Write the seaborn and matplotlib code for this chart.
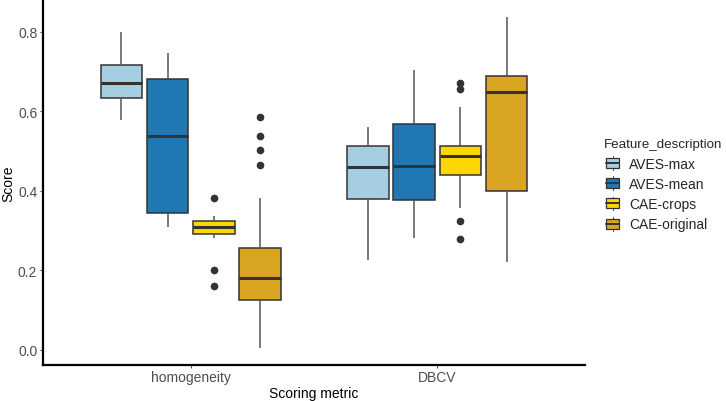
import numpy as np
import pandas as pd
import seaborn as sns
import matplotlib.pyplot as plt
from matplotlib.lines import Line2D
from matplotlib.patches import Rectangle
from matplotlib.legend_handler import HandlerBase

# === Data ===
metrics = ["homogeneity", "DBCV"]
features = ["AVES-max", "AVES-mean", "CAE-crops", "CAE-original"]
colors = ["#A6CEE3", "#1F78B4", "#FFD700", "#DAA520"]

homog_aves_max = [0.579, 0.598, 0.621, 0.634, 0.645, 0.660, 0.672, 0.684, 0.701, 0.717, 0.735, 0.762, 0.800]
homog_aves_mean = [0.310, 0.322, 0.338, 0.345, 0.402, 0.471, 0.538, 0.590, 0.641, 0.682, 0.703, 0.725, 0.747]
homog_cae_crops = [0.160, 0.200, 0.281, 0.292, 0.298, 0.305, 0.310, 0.314, 0.319, 0.325, 0.330, 0.337, 0.382]
homog_cae_original = [0.004, 0.045, 0.080, 0.101, 0.115, 0.124, 0.138, 0.150, 0.162, 0.172, 0.180,
                      0.192, 0.205, 0.221, 0.238, 0.255, 0.382, 0.465, 0.503, 0.539, 0.586]

dbcv_aves_max = [0.226, 0.290, 0.345, 0.380, 0.410, 0.438, 0.460, 0.478, 0.495, 0.514, 0.530, 0.547, 0.560]
dbcv_aves_mean = [0.281, 0.320, 0.352, 0.377, 0.405, 0.438, 0.462, 0.490, 0.531, 0.568, 0.610, 0.655, 0.704]
dbcv_cae_crops = [0.279, 0.325, 0.356, 0.412, 0.440, 0.455, 0.468, 0.480, 0.489, 0.496, 0.503, 0.509,
                  0.514, 0.548, 0.611, 0.657, 0.671]
dbcv_cae_original = [0.221, 0.285, 0.350, 0.399, 0.480, 0.575, 0.648, 0.660, 0.675, 0.689, 0.730, 0.785, 0.837]

groups = {
    ("homogeneity", "AVES-max"): homog_aves_max,
    ("homogeneity", "AVES-mean"): homog_aves_mean,
    ("homogeneity", "CAE-crops"): homog_cae_crops,
    ("homogeneity", "CAE-original"): homog_cae_original,
    ("DBCV", "AVES-max"): dbcv_aves_max,
    ("DBCV", "AVES-mean"): dbcv_aves_mean,
    ("DBCV", "CAE-crops"): dbcv_cae_crops,
    ("DBCV", "CAE-original"): dbcv_cae_original,
}

rows = []
for (m, f), vals in groups.items():
    for v in vals:
        rows.append({"Scoring metric": m, "Feature_description": f, "Score": v})
df = pd.DataFrame(rows)

# === Plot ===
sns.set_theme(style="white")
plt.rcParams["font.family"] = ["Liberation Sans", "DejaVu Sans"]

fig = plt.figure(figsize=(7.26, 4.02), dpi=100)
ax = fig.add_axes([0.059, 0.09, 0.747, 0.905])

edge = "#333333"
sns.boxplot(
    data=df, x="Scoring metric", y="Score", hue="Feature_description",
    order=metrics, hue_order=features, palette=colors, saturation=1,
    width=0.75, gap=0.1, linewidth=1.1, linecolor=edge,
    whiskerprops=dict(color="#555555", linewidth=1.1),
    capprops=dict(linewidth=0),
    medianprops=dict(color=edge, linewidth=2.2),
    flierprops=dict(marker="o", markerfacecolor=edge, markeredgecolor=edge, markersize=4.5),
    legend=False, ax=ax,
)

ax.set_xlim(-0.6, 1.6)
ax.set_ylim(-0.038, 0.878)
ax.set_yticks([0.0, 0.2, 0.4, 0.6, 0.8])
ax.set_yticklabels(["0.0", "0.2", "0.4", "0.6", "0.8"])
ax.set_xlabel("Scoring metric", fontsize=10, color="black", labelpad=1.5)
ax.set_ylabel("Score", fontsize=10, color="black")
ax.yaxis.set_label_coords(-0.051, 0.5)
ax.tick_params(axis="both", colors="#4D4D4D", labelsize=10, length=2, width=0.8,
               direction="out", bottom=True, left=True, pad=2)
for side in ["top", "right"]:
    ax.spines[side].set_visible(False)
for side in ["left", "bottom"]:
    ax.spines[side].set_color("black")
    ax.spines[side].set_linewidth(1.6)


# little boxplot glyphs for the legend keys, ggplot style
class BoxKey(HandlerBase):
    def create_artists(self, legend, orig_handle, xdescent, ydescent, width, height, fontsize, trans):
        fc = orig_handle.get_facecolor()
        x0, w = -xdescent + width * 0.15, width * 0.75
        y0, h = -ydescent + height * 0.1, height * 0.8
        wl1 = Line2D([x0 + w / 2, x0 + w / 2], [y0 - height * 0.15, y0], color="#555555", lw=0.8)
        wl2 = Line2D([x0 + w / 2, x0 + w / 2], [y0 + h, y0 + h + height * 0.15], color="#555555", lw=0.8)
        box = Rectangle((x0, y0), w, h, facecolor=fc, edgecolor=edge, lw=0.9)
        med = Line2D([x0, x0 + w], [y0 + h / 2, y0 + h / 2], color=edge, lw=1.4)
        for a in (wl1, wl2, box, med):
            a.set_transform(trans)
        return [wl1, wl2, box, med]


handles = [Rectangle((0, 0), 1, 1, facecolor=c) for c in colors]
leg = fig.legend(
    handles, features, title="Feature_description",
    handler_map={Rectangle: BoxKey()},
    loc="upper left", bbox_to_anchor=(0.828, 0.66),
    frameon=False, fontsize=10, title_fontsize=9.6,
    handlelength=1.2, handleheight=1.0, handletextpad=0.6, labelspacing=0.45,
    alignment="left", borderaxespad=0, borderpad=0.2,
)

fig.savefig("out.png", dpi=100)
